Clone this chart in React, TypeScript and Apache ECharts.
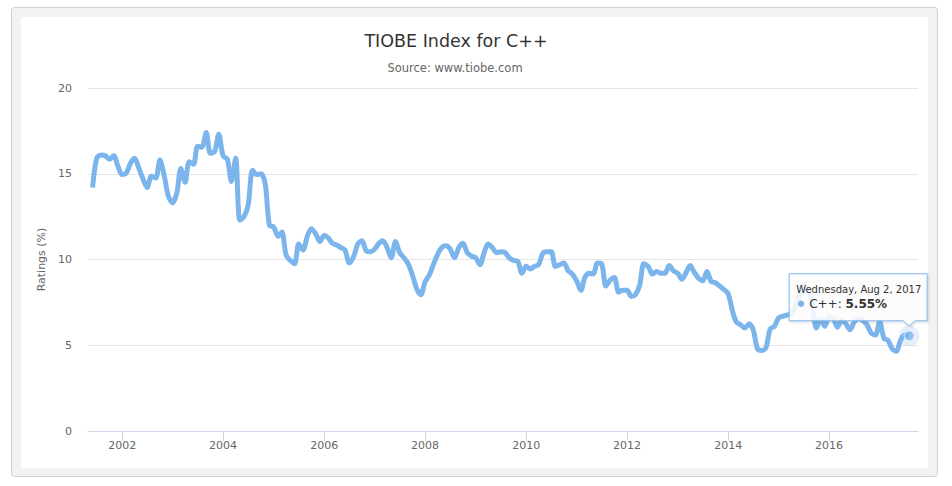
import React, { useEffect, useRef } from "react";
import * as echarts from "echarts";

// ---- data ----
const START_YEAR = 2001;
const START_MONTH = 6; // June 2001, monthly points
const LAST_POINT_DAY = 2; // last point: Aug 2, 2017

const ratings: number[] = [
  14.2, 15.9, 16.1, 16.05, 15.85, 16.05, 15.45, 14.95, 15.05, 15.6,
  15.9, 15.35, 14.7, 14.2, 14.85, 14.75, 15.8, 14.9, 13.7, 13.3,
  13.9, 15.3, 14.5, 15.7, 15.55, 16.6, 16.55, 17.4, 16.2, 16.3,
  17.3, 16.05, 15.85, 14.55, 15.9, 12.3, 12.5, 13.2, 15.2, 14.95,
  15.0, 14.4, 12.0, 11.9, 11.35, 11.6, 10.25, 9.95, 9.75, 10.9,
  10.55, 11.35, 11.8, 11.5, 11.05, 11.4, 11.25, 10.95, 10.85, 10.7,
  10.55, 9.8, 10.15, 10.9, 11.1, 10.5, 10.45, 10.6, 10.95, 11.1,
  10.7, 10.1, 11.05, 10.4, 10.1, 9.75, 9.1, 8.3, 7.95, 8.7,
  9.1, 9.7, 10.3, 10.7, 10.8, 10.6, 10.1, 10.7, 10.95, 10.4,
  10.2, 10.1, 9.7, 10.35, 10.9, 10.7, 10.4, 10.45, 10.4, 10.1,
  9.95, 9.9, 9.2, 9.6, 9.45, 9.6, 9.7, 10.35, 10.45, 10.45,
  9.6, 9.7, 9.8, 9.35, 9.15, 8.75, 8.2, 8.95, 9.2, 9.15,
  9.8, 9.75, 8.45, 8.8, 8.95, 8.1, 8.2, 8.2, 7.85, 7.95,
  8.5, 9.75, 9.6, 9.15, 9.3, 9.2, 9.2, 9.65, 9.35, 9.2,
  8.85, 9.2, 9.65, 9.25, 8.9, 8.75, 9.3, 8.7, 8.65, 8.45,
  8.25, 8.0, 7.0, 6.36, 6.2, 6.0, 6.25, 5.9, 4.8, 4.7,
  4.85, 5.95, 6.1, 6.6, 6.7, 6.75, 6.85, 7.2, 7.9, 8.55,
  8.3, 7.4, 6.0, 6.55, 6.1, 6.65, 6.55, 6.05, 6.45, 6.25,
  5.9, 6.35, 6.55, 6.45, 6.2, 5.7, 5.6, 6.35, 5.4, 5.3,
  4.8, 4.65, 5.3, 5.6, 5.55,
];

const xTickYears = [2002, 2004, 2006, 2008, 2010, 2012, 2014, 2016];
const yMin = 0;
const yMax = 20;
const yStep = 5;

const TITLE = "TIOBE Index for C++";
const SUBTITLE = "Source: www.tiobe.com";
const SERIES_NAME = "C++";
const Y_NAME = "Ratings (%)";

const COLOR = "#7cb5ec";
const FONT = "'DejaVu Sans', Verdana, sans-serif";

const WEEKDAYS = ["Sunday", "Monday", "Tuesday", "Wednesday", "Thursday", "Friday", "Saturday"];
const MONTHS = ["Jan", "Feb", "Mar", "Apr", "May", "Jun", "Jul", "Aug", "Sep", "Oct", "Nov", "Dec"];

function pointTime(i: number, last: number): number {
  const m = START_MONTH - 1 + i;
  const y = START_YEAR + Math.floor(m / 12);
  const mm = m % 12;
  return new Date(y, mm, i === last ? LAST_POINT_DAY : 1).getTime();
}

export default function App() {
  const ref = useRef<HTMLDivElement>(null);

  useEffect(() => {
    const el = ref.current!;
    const chart = echarts.init(el, null, { renderer: "svg", width: 952, height: 486 });
    const last = ratings.length - 1;
    const data = ratings.map((v, i) => [pointTime(i, last), v]);
    const tickTimes = xTickYears.map((y) => new Date(y, 0, 1).getTime());

    chart.setOption({
      animation: false,
      grid: { left: 88, right: 34, top: 88, bottom: 55, containLabel: false },
      xAxis: {
        type: "value",
        min: new Date(2001, 3, 29).getTime(),
        max: new Date(2017, 9, 5).getTime(),
        axisLine: { show: true, onZero: false, lineStyle: { color: "#ccd6eb", width: 1 } },
        axisTick: {
          show: true,
          length: 10,
          customValues: tickTimes,
          lineStyle: { color: "#ccd6eb" },
        },
        axisLabel: {
          customValues: tickTimes,
          formatter: (v: number) => String(new Date(v).getFullYear()),
          color: "#666",
          fontSize: 11,
          fontFamily: FONT,
          margin: 9,
          showMinLabel: true,
          showMaxLabel: true,
        },
        splitLine: { show: false },
      },
      yAxis: {
        type: "value",
        min: yMin,
        max: yMax,
        interval: yStep,
        name: Y_NAME,
        nameLocation: "middle",
        nameGap: 40,
        nameTextStyle: { color: "#666", fontSize: 11, fontFamily: FONT },
        axisLine: { show: false },
        axisTick: { show: false },
        axisLabel: { color: "#666", fontSize: 11, fontFamily: FONT, margin: 16 },
        splitLine: { show: true, lineStyle: { color: "#e6e6e6", width: 1 } },
      },
      series: [
        {
          name: SERIES_NAME,
          type: "line",
          data,
          showSymbol: false,
          smooth: 0.3,
          lineStyle: { color: COLOR, width: 5 },
          itemStyle: { color: COLOR },
          z: 3,
        },
        {
          type: "scatter",
          data: [data[last]],
          symbolSize: 21,
          itemStyle: { color: "rgba(124,181,236,0.25)" },
          silent: true,
          z: 4,
        },
        {
          type: "scatter",
          data: [data[last]],
          symbolSize: 10,
          itemStyle: { color: COLOR, borderColor: "#ffffff", borderWidth: 1 },
          silent: true,
          z: 5,
        },
      ],
    });

    const [px, py] = chart.convertToPixel({ gridIndex: 0 }, data[last]) as number[];
    const d = new Date(data[last][0]);
    const dateText = `${WEEKDAYS[d.getDay()]}, ${MONTHS[d.getMonth()]} ${d.getDate()}, ${d.getFullYear()}`;
    const valueText = `${ratings[last].toFixed(2)}%`;

    const L = px - 120;
    const R = px + 18;
    const T = py - 62;
    const B = py - 15;

    chart.setOption({
      graphic: {
        elements: [
          {
            id: "outer",
            type: "rect",
            z: -20,
            silent: true,
            shape: { x: 11.5, y: 7.5, width: 926, height: 469, r: 3 },
            style: { fill: "#f2f2f2", stroke: "#d0d0d0", lineWidth: 1 },
          },
          {
            id: "inner",
            type: "rect",
            z: -19,
            silent: true,
            shape: { x: 21, y: 17, width: 907, height: 451 },
            style: { fill: "#ffffff" },
          },
          {
            id: "title",
            type: "text",
            z: 10,
            x: 456,
            y: 41,
            style: {
              text: TITLE,
              fill: "#333333",
              font: `17.5px ${FONT}`,
              align: "center",
              verticalAlign: "middle",
            },
          },
          {
            id: "subtitle",
            type: "text",
            z: 10,
            x: 455,
            y: 68,
            style: {
              text: SUBTITLE,
              fill: "#666666",
              font: `11.5px ${FONT}`,
              align: "center",
              verticalAlign: "middle",
            },
          },
          {
            id: "tipbox",
            type: "polygon",
            z: 100,
            silent: true,
            shape: {
              points: [
                [L, T],
                [R, T],
                [R, B],
                [px + 6, B],
                [px, B + 5],
                [px - 6, B],
                [L, B],
              ],
            },
            style: {
              fill: "rgba(255,255,255,0.85)",
              stroke: COLOR,
              lineWidth: 1,
              shadowBlur: 3,
              shadowColor: "rgba(0,0,0,0.18)",
              shadowOffsetX: 1,
              shadowOffsetY: 1,
            },
          },
          {
            id: "tipdate",
            type: "text",
            z: 101,
            x: L + 7,
            y: py - 46,
            style: {
              text: dateText,
              fill: "#333333",
              font: `10px ${FONT}`,
              align: "left",
              verticalAlign: "middle",
            },
          },
          {
            id: "tipdot",
            type: "circle",
            z: 101,
            shape: { cx: L + 12, cy: py - 32, r: 3.2 },
            style: { fill: COLOR },
          },
          {
            id: "tipvalue",
            type: "text",
            z: 101,
            x: L + 20,
            y: py - 32,
            style: {
              text: `${SERIES_NAME}: {b|${valueText}}`,
              fill: "#333333",
              font: `12px ${FONT}`,
              align: "left",
              verticalAlign: "middle",
              rich: {
                b: { fontWeight: "bold", fontSize: 12, fontFamily: FONT, fill: "#333333" },
              },
            },
          },
        ],
      },
    });

    return () => chart.dispose();
  }, []);

  return (
    <div
      ref={ref}
      style={{ position: "absolute", left: 0, top: 0, width: 952, height: 486 }}
    />
  );
}
